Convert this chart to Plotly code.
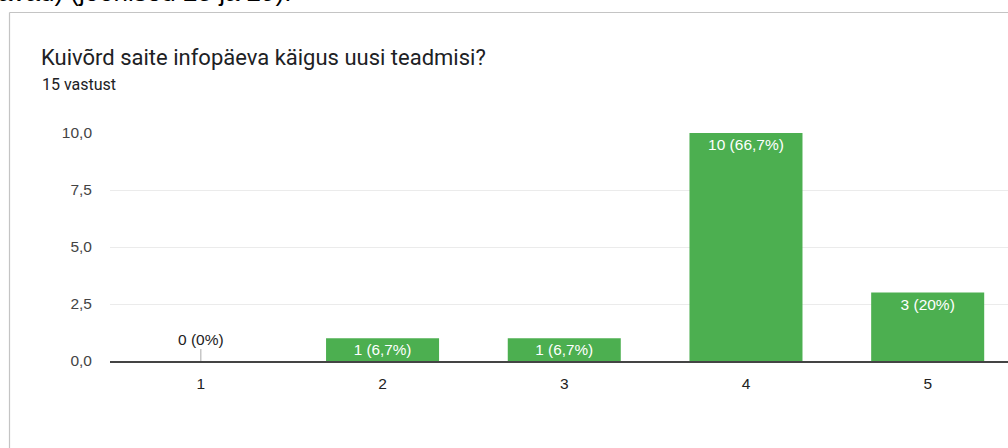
import plotly.graph_objects as go

categories = ["1", "2", "3", "4", "5"]
counts = [0, 1, 1, 10, 3]
y_ticks = [0, 2.5, 5, 7.5, 10]
title_text = "Kuivõrd saite infopäeva käigus uusi teadmisi?"
subtitle_text = "15 vastust"
top_text = "avad) (joonised 28 ja 29)."

total = sum(counts)


def fmt_pct(c):
    p = round(c / total * 100, 1)
    s = ("%.1f" % p).rstrip("0").rstrip(".")
    return s.replace(".", ",") + "%"


labels = [f"{c} ({fmt_pct(c)})" if c > 0 else "" for c in counts]

W, H = 1008, 448
L, R, T, B = 110, 0, 133, 87
pw = W - L - R
ph = H - T - B
FONT = "Liberation Sans, Arial"


def px_x(px):
    return (px - L) / pw


def px_y(py):
    return (H - B - py) / ph


fig = go.Figure()
fig.add_trace(go.Bar(
    x=categories, y=counts, text=labels,
    marker=dict(color="#4caf50", line=dict(width=0)),
    width=0.622,
    textposition="inside", insidetextanchor="end",
    textangle=0,
    textfont=dict(color="white", size=15.5, family=FONT),
    hoverinfo="skip",
))

# zero-value annotation with stem
for i, c in enumerate(counts):
    if c == 0:
        fig.add_annotation(
            x=i, y=c, xref="x", yref="y",
            text=f"{c} ({fmt_pct(c)})",
            showarrow=True, arrowhead=0, arrowwidth=1, arrowcolor="#aaaaaa",
            ax=0, ay=-22,
            font=dict(size=15.5, color="#222222", family=FONT),
        )

# card border
fig.add_shape(type="line", xref="paper", yref="paper",
              x0=px_x(9.5), x1=px_x(1100), y0=px_y(12.5), y1=px_y(12.5),
              line=dict(color="#c4c4c4", width=1.2))
fig.add_shape(type="line", xref="paper", yref="paper",
              x0=px_x(9.5), x1=px_x(9.5), y0=px_y(12.5), y1=px_y(500),
              line=dict(color="#c4c4c4", width=1.2))

fig.add_annotation(x=px_x(39), y=px_y(57), xref="paper", yref="paper",
                   xanchor="left", yanchor="middle", showarrow=False,
                   text=title_text,
                   font=dict(size=22, color="#202124", family="Roboto"))
fig.add_annotation(x=px_x(40), y=px_y(84), xref="paper", yref="paper",
                   xanchor="left", yanchor="middle", showarrow=False,
                   text=subtitle_text,
                   font=dict(size=16, color="#202124", family="Roboto"))
fig.add_annotation(x=px_x(-4), y=px_y(-8), xref="paper", yref="paper",
                   xanchor="left", yanchor="middle", showarrow=False,
                   text=top_text,
                   font=dict(size=26, color="#000000", family=FONT))

fig.update_layout(
    width=W, height=H,
    margin=dict(l=L, r=R, t=T, b=B, pad=0),
    paper_bgcolor="white", plot_bgcolor="white",
    separators=",.",
    showlegend=False,
    xaxis=dict(
        type="category", range=[-0.5, 4.442],
        showgrid=False, showline=True, linecolor="#444444", linewidth=1.5,
        ticks="", ticklabelstandoff=8,
        tickfont=dict(size=15.5, color="#222222", family=FONT),
        fixedrange=True,
    ),
    yaxis=dict(
        range=[0, 10], tickvals=y_ticks, tickformat=".1f",
        showgrid=True, gridcolor="#ebebeb", gridwidth=1,
        zeroline=False, showline=False, ticks="",
        ticklabelstandoff=17,
        tickfont=dict(size=15.5, color="#444444", family=FONT),
        fixedrange=True,
    ),
)

fig.write_html("out.html")
